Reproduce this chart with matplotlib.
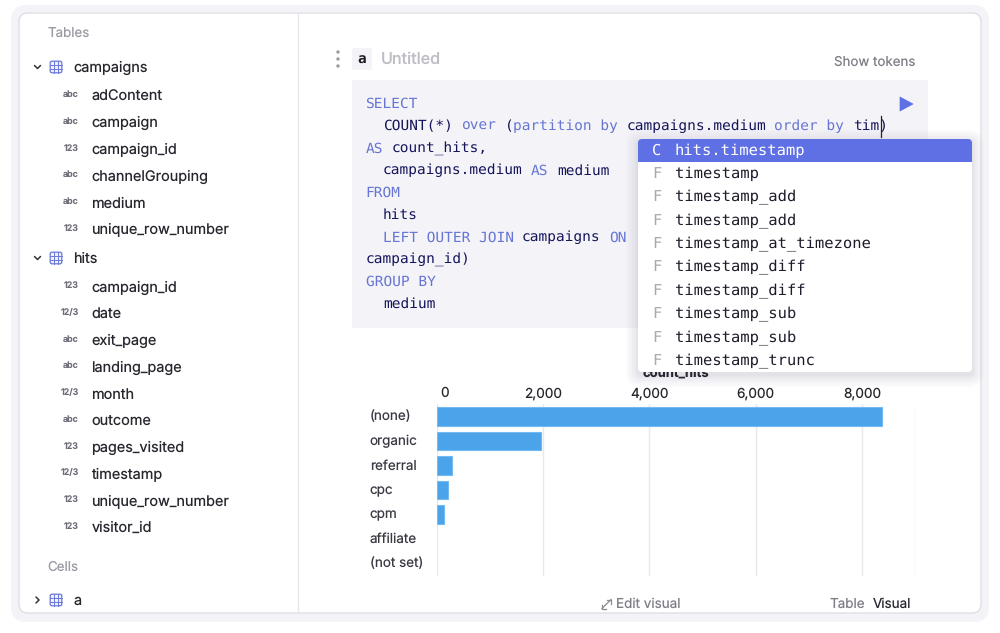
import matplotlib
matplotlib.use("Agg")
import matplotlib.pyplot as plt
from matplotlib.patches import FancyBboxPatch, Rectangle, Polygon, Circle
from matplotlib.transforms import ScaledTranslation

plt.rcParams["text.hinting"] = "none"

# ---- data ----
categories = ["(none)", "organic", "referral", "cpc", "cpm", "affiliate", "(not set)"]
count_hits = [8380, 1965, 280, 215, 130, 6, 3]
x_ticks = [0, 2000, 4000, 6000, 8000]
x_tick_labels = ["0", "2,000", "4,000", "6,000", "8,000"]
x_domain_end = 9000

campaign_fields = ["adContent", "campaign", "campaign_id", "channelGrouping", "medium", "unique_row_number"]
campaign_types = ["abc", "abc", "123", "abc", "abc", "123"]
hits_fields = ["campaign_id", "date", "exit_page", "landing_page", "month", "outcome",
               "pages_visited", "timestamp", "unique_row_number", "visitor_id"]
hits_types = ["123", "12/3", "abc", "abc", "12/3", "abc", "123", "12/3", "123", "123"]

K = "k"
I = "i"
code_lines = [
    [(0, "SELECT", K)],
    [(2, "COUNT(*)", I), (11, "over", K), (16, "(", I), (17, "partition by", K),
     (30, "campaigns.medium", I), (47, "order by", K), (56, "tim)", I)],
    [(0, "AS", K), (3, "count_hits,", I)],
    [(2, "campaigns.medium", I), (19, "AS", K), (22, "medium", I)],
    [(0, "FROM", K)],
    [(2, "hits", I)],
    [(2, "LEFT OUTER JOIN", K), (18, "campaigns", I), (28, "ON", K)],
    [(0, "campaign_id)", I)],
    [(0, "GROUP BY", K)],
    [(2, "medium", I)],
]
code_rows = [103, 125.5, 148, 170, 192, 214.5, 237, 259, 281, 303.5]

popup_kinds = ["C", "F", "F", "F", "F", "F", "F", "F", "F", "F"]
popup_items = ["hits.timestamp", "timestamp", "timestamp_add", "timestamp_add", "timestamp_at_timezone",
               "timestamp_diff", "timestamp_diff", "timestamp_sub", "timestamp_sub", "timestamp_trunc"]
popup_rows = [150, 173, 196.5, 220, 243, 266.5, 290, 313, 337, 360]

# ---- style ----
W, H = 1000, 633
UI = "Inter"
MONO = "DejaVu Sans Mono"
INK = "#26262e"
GREY = "#9a9aa3"
ACCENT = "#5f70e4"
KEYWORD = "#6676d2"
IDENT = "#14145c"
GRID = "#e7e7ee"
BAR = "#4ba3ea"

fig = plt.figure(figsize=(W / 100, H / 100), dpi=100, facecolor="white")


def px_axes(z):
    ax = fig.add_axes([0, 0, 1, 1], zorder=z)
    ax.set_xlim(0, W)
    ax.set_ylim(H, 0)
    ax.axis("off")
    ax.patch.set_alpha(0)
    return ax


def rbox(ax, x0, y0, x1, y1, r, **kw):
    ax.add_patch(FancyBboxPatch((x0 + r, y0 + r), x1 - x0 - 2 * r, y1 - y0 - 2 * r,
                                boxstyle=f"round,pad={r},rounding_size={r}", **kw))


def label(ax, x, y, s, size=10.4, color=INK, family=UI, weight="normal", ha="left"):
    ax.text(x, y + 1, s, fontsize=size, color=color, family=family, weight=weight, ha=ha, va="center")


def table_icon(ax, x, y):
    c = "#6a78d8"
    ax.add_patch(FancyBboxPatch((x - 5, y - 5), 10, 10, boxstyle="round,pad=0.8,rounding_size=1.8",
                                fc="#eef0fb", ec=c, lw=0.9))
    for d in (-1.9, 1.9):
        ax.plot([x + d, x + d], [y - 5.8, y + 5.8], color=c, lw=0.7)
        ax.plot([x - 5.8, x + 5.8], [y + d, y + d], color=c, lw=0.7)


def chevron(ax, x, y, down=True):
    if down:
        pts = ([x - 3, x, x + 3], [y - 1.5, y + 1.5, y - 1.5])
    else:
        pts = ([x - 1.5, x + 1.5, x - 1.5], [y - 3, y, y + 3])
    ax.plot(*pts, color="#33333b", lw=1.1, solid_capstyle="round")


bg = px_axes(0)

# outer frame and panel
rbox(bg, 11, 5, 989, 622, 16, fc="#f3f3f8", ec="none")
rbox(bg, 19, 13, 981, 613, 9, fc="white", ec="#dfdfe6", lw=1)
bg.plot([298, 298], [13, 613], color="#e6e6ec", lw=1)

# sidebar
label(bg, 47.5, 33.5, "Tables", 9.6, GREY)
label(bg, 47.5, 566.5, "Cells", 9.6, GREY)


def tree(name, y, fields, types, pitch=26.75):
    chevron(bg, 37.5, y, True)
    table_icon(bg, 56, y)
    label(bg, 73.5, y - 0.5, name)
    yy = y + 29
    for f, t in zip(fields, types):
        label(bg, 79, yy - 2.5, t, 6.4, "#6d6d78", weight="semibold", ha="right")
        label(bg, 91.5, yy - 0.5, f)
        yy += pitch


tree("campaigns", 67, campaign_fields, campaign_types)
tree("hits", 258, hits_fields, hits_types)
chevron(bg, 37.5, 600, False)
table_icon(bg, 56, 600)
label(bg, 73.5, 599.5, "a")

# cell header
for y in (52, 59, 66):
    bg.add_patch(Circle((338, y), 1.7, fc="#9b9ba4", ec="none"))
rbox(bg, 352, 48, 372, 70, 2, fc="#f4f3f8", ec="none")
label(bg, 362, 58.5, "a", 10.4, "#1b1b22", MONO, "bold", "center")
label(bg, 381, 58.5, "Untitled", 11.6, "#bdbdc6", weight="medium")
label(bg, 834, 61.5, "Show tokens", 9.6, "#7f7f88")

# code cell
rbox(bg, 352, 80, 928, 328, 2, fc="#f4f3f8", ec="none")
CHAR = 8.7
for row, tokens in zip(code_rows, code_lines):
    for col, s, kind in tokens:
        label(bg, 365.5 + col * CHAR, row - 0.5, s, 10.42, KEYWORD if kind == K else IDENT, MONO)
bg.plot([880.5, 880.5], [116, 137], color="#222", lw=0.9)
bg.add_patch(Polygon([[900, 97], [900, 111], [913, 104]], closed=True, fc=ACCENT, ec=ACCENT, lw=0.5, joinstyle="round"))

# footer
label(bg, 616, 603.5, "Edit visual", 9.7, "#7f7f88")
bg.plot([602, 611], [608.5, 599.5], color="#8a8a93", lw=0.9)
bg.plot([602, 602, 606], [604.5, 608.5, 608.5], color="#8a8a93", lw=0.9)
bg.plot([607, 611, 611], [599.5, 599.5, 603.5], color="#8a8a93", lw=0.9)
label(bg, 830, 603.5, "Table", 9.7, "#7f7f88")
label(bg, 873, 603.5, "Visual", 9.7, "#2a2a33")

# bar chart
L, R, T, B = 437, 915, 404.25, 575.75
ax = fig.add_axes([L / W, 1 - B / H, (R - L) / W, (B - T) / H], zorder=1)
ax.patch.set_alpha(0)
y_pos = list(range(len(categories)))
edge_widths = [0.8 if v > 50 else 0 for v in count_hits]
ax.barh(y_pos, count_hits, height=0.75, color=BAR, edgecolor="#74baf2", linewidth=edge_widths, zorder=3)
ax.set_xlim(0, x_domain_end)
ax.set_ylim(len(categories) - 0.5, -0.5)
ax.xaxis.tick_top()
ax.set_xticks(x_ticks + [x_domain_end])
ax.set_xticklabels(x_tick_labels + [""], fontsize=9.8, color=INK, family=UI)
ax.set_yticks(y_pos)
ax.set_yticklabels(categories, fontsize=9.7, color="#3a3a44", family=UI, ha="left")
ax.tick_params(axis="x", length=0, pad=3)
ax.tick_params(axis="y", length=0, pad=48.5)
ax.grid(axis="x", color=GRID, lw=1, zorder=0)
for s in ax.spines.values():
    s.set_visible(False)
first = ax.get_xticklabels()[0]
first.set_transform(first.get_transform() + ScaledTranslation(8 / 100, 0, fig.dpi_scale_trans))
for t in ax.get_yticklabels():
    t.set_transform(t.get_transform() + ScaledTranslation(0, 1.2 / 100, fig.dpi_scale_trans))
ax.set_title("count_hits", fontsize=9.4, weight="bold", family=UI, color=INK, pad=20)

# autocomplete popup
over = px_axes(2)
for grow in (12, 10, 8, 6, 4, 3, 2, 1):
    rbox(over, 638 - grow, 139 - grow + 3, 972 + grow, 372 + grow + 3, 4 + grow, fc="#30305a", ec="none", alpha=0.014)
rbox(over, 638, 139, 972, 372, 4, fc="white", ec="none")
rbox(over, 638, 139, 972, 162, 4, fc=ACCENT, ec="none")
over.add_patch(Rectangle((638, 150), 334, 12, fc=ACCENT, ec="none"))
for i, (kind, item, y) in enumerate(zip(popup_kinds, popup_items, popup_rows)):
    active = i == 0
    label(over, 657, y - 0.5, kind, 11.1, "white" if active else "#a9a9b0", MONO, ha="center")
    label(over, 675, y - 0.5, item, 11.15, "white" if active else "#1c1c2a", MONO)

fig.savefig("out.png", dpi=100, facecolor="white")
